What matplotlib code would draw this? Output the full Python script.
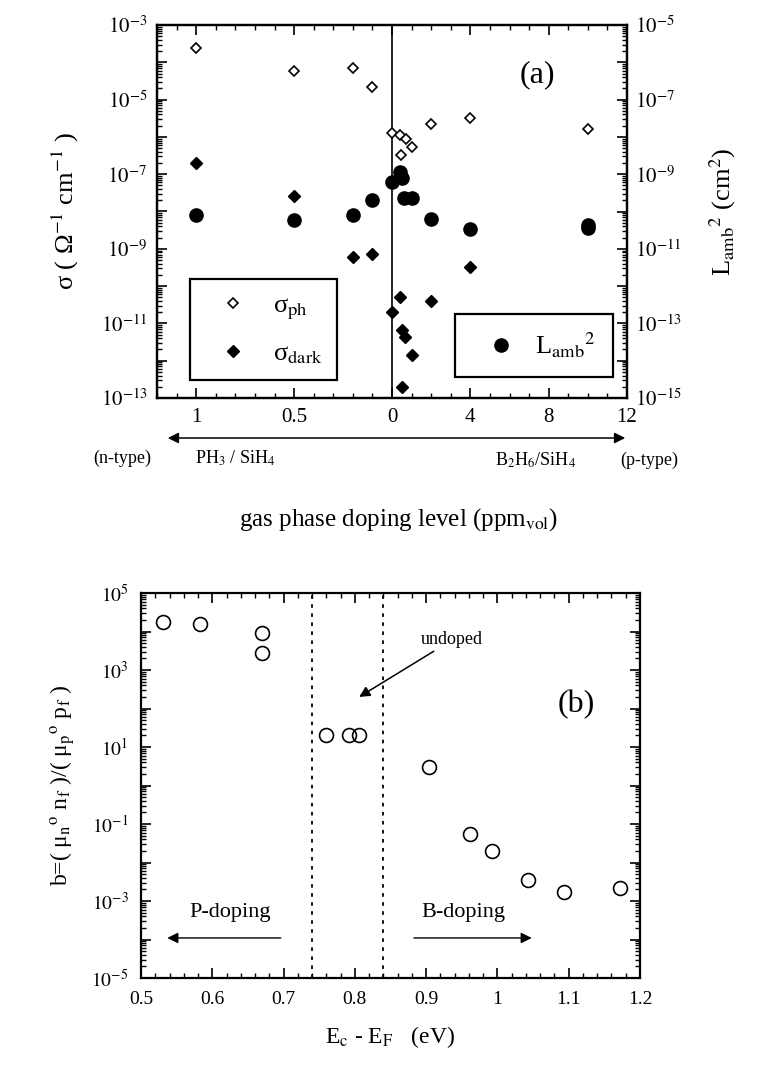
import numpy as np
import matplotlib
matplotlib.use("Agg")
import matplotlib.pyplot as plt
from matplotlib.ticker import FixedLocator, LogLocator, FuncFormatter, NullFormatter, MultipleLocator
from matplotlib.lines import Line2D
from matplotlib.patches import FancyArrowPatch

plt.rcParams["font.family"] = ["Liberation Serif", "DejaVu Serif"]
plt.rcParams["mathtext.fontset"] = "stix"

# panel (a): signed doping level in ppm (negative = PH3/SiH4, positive = B2H6/SiH4)
ph_doping = [-1, -0.5, -0.2, -0.1, 0, 0.4, 0.7, 1.0, 0.45, 2, 4, 10]
ph_logsigma = [-3.62, -4.23, -4.15, -4.66, -5.9, -5.95, -6.05, -6.27, -6.49, -5.65, -5.49, -5.79]

dark_doping = [-1, -0.5, -0.2, -0.1, 0, 0.4, 0.5, 0.65, 1.0, 0.5, 2, 4]
dark_logsigma = [-6.70, -7.58, -9.22, -9.14, -10.69, -10.29, -11.18, -11.36, -11.85, -12.7, -10.40, -9.49]

lamb_doping = [-1, -0.5, -0.2, -0.1, 0, 0.4, 0.5, 0.6, 1.0, 2, 4, 10, 10]
lamb_logL2 = [-10.09, -10.23, -10.09, -9.69, -9.21, -8.94, -9.10, -9.64, -9.64, -10.2, -10.47, -10.35, -10.45]

xticks_a = [-1, -0.5, 0, 4, 8, 12]
xticklabels_a = ["1", "0.5", "0", "4", "8", "12"]

# panel (b)
ef_gap = [0.531, 0.583, 0.670, 0.670, 0.759, 0.792, 0.806, 0.904, 0.962, 0.993, 1.043, 1.093, 1.172]
log_b = [4.25, 4.2, 3.96, 3.44, 1.31, 1.31, 1.31, 0.48, -1.26, -1.70, -2.45, -2.77, -2.66]
band_edges = [0.74, 0.84]

W, H = 767, 1066
fig = plt.figure(figsize=(W / 100, H / 100), dpi=100)


def px(x, y):
    return x / W, 1 - y / H


def fwd(x):
    x = np.asarray(x, dtype=float)
    return np.where(x < 0, 10 * x, x)


def inv(u):
    u = np.asarray(u, dtype=float)
    return np.where(u < 0, u / 10, u)


def odd_decades(v, pos):
    e = int(round(np.log10(v)))
    return rf"$10^{{{e}}}$" if e % 2 else ""


def style_log_y(axis):
    axis.set_major_locator(LogLocator(base=10, subs=(1.0,), numticks=30))
    axis.set_minor_locator(LogLocator(base=10, subs=np.arange(2, 10), numticks=30))
    axis.set_major_formatter(FuncFormatter(odd_decades))
    axis.set_minor_formatter(NullFormatter())


# ---------------- panel (a) ----------------
ax = fig.add_axes([157 / W, 1 - 398 / H, 470 / W, 373 / H])
ax.set_xscale("function", functions=(fwd, inv))
ax.set_yscale("log")
ax.set_xlim(-1.2, 12)
ax.set_ylim(1e-13, 1e-3)
ax2 = ax.twinx()
ax2.set_yscale("log")
ax2.set_ylim(1e-15, 1e-5)

ax.axvline(0, color="black", lw=1.2)
ax.plot(ph_doping, 10.0 ** np.array(ph_logsigma), "D", ms=5.5, mfc="white", mec="black", mew=1.2)
ax.plot(dark_doping, 10.0 ** np.array(dark_logsigma), "D", ms=6.5, color="black")
ax2.plot(lamb_doping, 10.0 ** np.array(lamb_logL2), "o", ms=9.5, color="black")

ax.xaxis.set_major_locator(FixedLocator(xticks_a))
ax.set_xticklabels(xticklabels_a)
minor_a = list(np.round(np.arange(-1.2, 0, 0.1), 2)) + list(range(1, 12))
ax.xaxis.set_minor_locator(FixedLocator(minor_a))
style_log_y(ax.yaxis)
style_log_y(ax2.yaxis)

for a in (ax, ax2):
    for s in a.spines.values():
        s.set_linewidth(1.6)
ax.tick_params(which="both", direction="in", top=True, right=False, labelsize=15, pad=7)
ax.tick_params(which="major", length=7, width=1.2)
ax.tick_params(which="minor", length=3.5, width=1)
ax2.tick_params(which="both", direction="in", labelsize=15, pad=6)
ax2.tick_params(which="major", length=7, width=1.2)
ax2.tick_params(which="minor", length=3.5, width=1)

ax.set_ylabel(r"σ ( Ω$^{-1}$ cm$^{-1}$ )", fontsize=19, labelpad=14)
ax2.set_ylabel(r"L$_{\mathrm{amb}}$$^{2}$ (cm$^{2}$)", fontsize=19, labelpad=18)
ax.text(0.81, 0.866, "(a)", transform=ax.transAxes, fontsize=23, ha="center", va="center")

h_ph = Line2D([], [], marker="D", ls="none", ms=5.5, mfc="white", mec="black", mew=1.2)
h_dk = Line2D([], [], marker="D", ls="none", ms=6.5, color="black")
h_l2 = Line2D([], [], marker="o", ls="none", ms=9.5, color="black")
leg1 = ax.legend([h_ph, h_dk], [r"σ$_{\mathrm{ph}}$", r"σ$_{\mathrm{dark}}$"], loc="lower left",
                 bbox_to_anchor=(0.07, 0.048), fontsize=19, frameon=True, fancybox=False,
                 edgecolor="black", framealpha=1, borderpad=0.55, labelspacing=0.75,
                 handlelength=2.2, handletextpad=0.4, borderaxespad=0)
leg1.get_frame().set_linewidth(1.6)
leg2 = ax2.legend([h_l2], [r"L$_{\mathrm{amb}}$$^{2}$"], loc="lower left",
                  bbox_to_anchor=(0.634, 0.056), fontsize=19, frameon=True, fancybox=False,
                  edgecolor="black", framealpha=1, borderpad=0.65,
                  handlelength=2.2, handletextpad=0.2, borderaxespad=0)
leg2.get_frame().set_linewidth(1.6)

arr = FancyArrowPatch(px(165, 438), px(628, 438), transform=fig.transFigure,
                      arrowstyle="<|-|>", mutation_scale=16, color="black", lw=1.1)
fig.patches.append(arr)
fig.text(*px(93, 458), "(n-type)", fontsize=13, va="center", ha="left")
fig.text(*px(195, 458), r"PH$_3$ / SiH$_4$", fontsize=13, va="center", ha="left")
fig.text(*px(495, 460), r"B$_2$H$_6$/SiH$_4$", fontsize=13, va="center", ha="left")
fig.text(*px(620, 460), "(p-type)", fontsize=13, va="center", ha="left")
fig.text(*px(399, 520), r"gas phase doping level (ppm$_{\mathrm{vol}}$)", fontsize=18,
         va="center", ha="center")

# ---------------- panel (b) ----------------
bx = fig.add_axes([141 / W, 1 - 978 / H, 499 / W, 385 / H])
bx.set_yscale("log")
bx.set_xlim(0.5, 1.2)
bx.set_ylim(1e-5, 1e5)
for e in band_edges:
    bx.axvline(e, color="black", lw=1.3, ls=(0, (2, 3)))
bx.plot(ef_gap, 10.0 ** np.array(log_b), "o", ms=10, mfc="none", mec="black", mew=1.2)

bx.xaxis.set_major_locator(MultipleLocator(0.1))
bx.xaxis.set_minor_locator(MultipleLocator(0.02))
bx.xaxis.set_major_formatter(FuncFormatter(lambda v, p: f"{v:g}"))
style_log_y(bx.yaxis)
for s in bx.spines.values():
    s.set_linewidth(1.6)
bx.tick_params(which="both", direction="in", top=True, right=True, labelsize=14, pad=9)
bx.tick_params(which="major", length=7, width=1.2)
bx.tick_params(which="minor", length=3.5, width=1)

bx.set_ylabel(r"b=( μ$_{\mathrm{n}}$$^{\mathrm{o}}$ n$_{\mathrm{f}}$ )/( μ$_{\mathrm{p}}$$^{\mathrm{o}}$ p$_{\mathrm{f}}$ )",
              fontsize=17, labelpad=10)
bx.set_xlabel(r"E$_{\mathrm{c}}$ - E$_{\mathrm{F}}$   (eV)", fontsize=17, labelpad=12)
bx.text(1.111, 10 ** 2.09, "(b)", fontsize=23, ha="center", va="center")

bx.annotate("undoped", xy=(0.806, 10 ** 2.30), xytext=(0.893, 10 ** 3.78), fontsize=13,
            ha="left", va="center",
            arrowprops=dict(arrowstyle="-|>", color="black", lw=1.1, mutation_scale=16,
                            shrinkA=0, shrinkB=0))
bx.text(0.625, 10 ** -3.29, "P-doping", fontsize=16, ha="center", va="center")
bx.annotate("", xy=(0.533, 10 ** -3.96), xytext=(0.70, 10 ** -3.96),
            arrowprops=dict(arrowstyle="-|>", color="black", lw=1.0, mutation_scale=16))
bx.text(0.952, 10 ** -3.29, "B-doping", fontsize=16, ha="center", va="center")
bx.annotate("", xy=(1.052, 10 ** -3.96), xytext=(0.879, 10 ** -3.96),
            arrowprops=dict(arrowstyle="-|>", color="black", lw=1.0, mutation_scale=16))

fig.savefig("out.png", dpi=100)
